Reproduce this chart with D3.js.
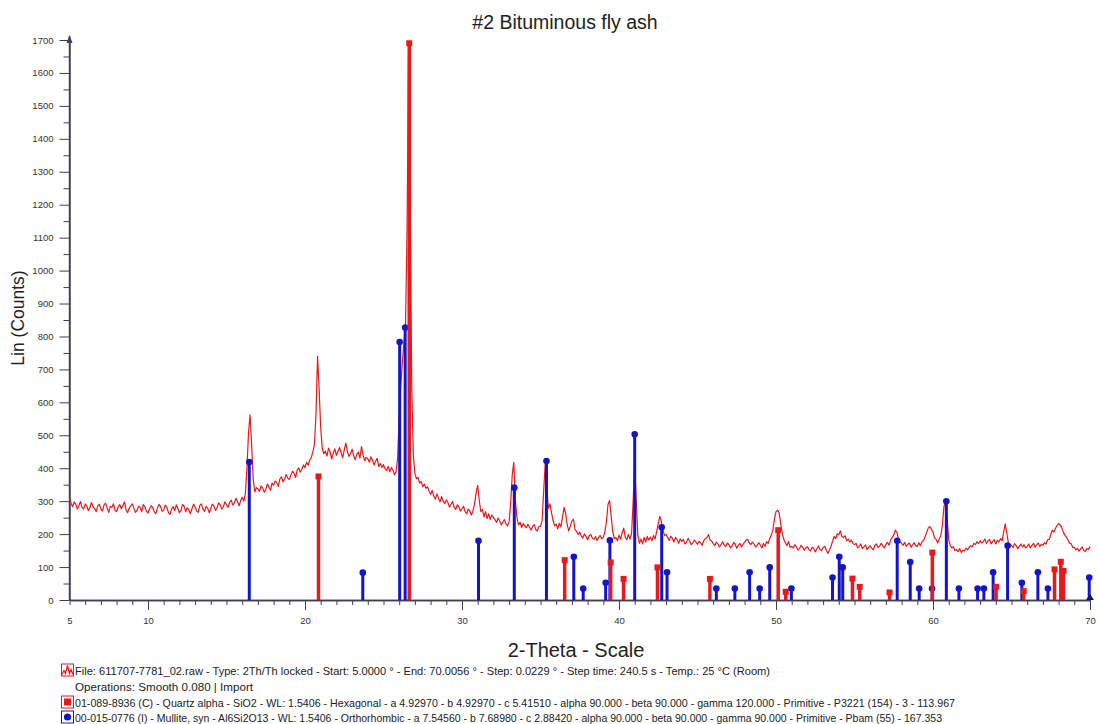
<!DOCTYPE html>
<html><head><meta charset="utf-8">
<script src="https://cdn.jsdelivr.net/npm/d3@7"></script>
<style>
body{margin:0;background:#fff}
svg{display:block}
text{font-family:"Liberation Sans",Arial,Helvetica,sans-serif}
</style>
</head><body>
<svg id="chart" width="1099" height="724"></svg>
<script>
// ---------------- DATA ----------------
const titleText = "#2 Bituminous fly ash";
const xLabel = "2-Theta - Scale";
const yLabel = "Lin (Counts)";

// measured pattern: one value per 0.1 deg of 2-theta, starting at 5.0
const thetaStart = 5.0, thetaStep = 0.1;
const counts = [
/*5*/  309,294,283,298,290,276,287,299,281,276,
/*6*/  292,286,271,280,296,283,278,268,285,291,
/*7*/  276,270,289,294,279,266,284,281,292,272,
/*8*/  268,283,290,277,287,298,274,265,279,286,
/*9*/  292,279,266,272,285,281,268,290,283,270,
/*10*/ 264,277,286,281,267,262,279,290,284,269,
/*11*/ 273,288,281,266,260,276,284,271,289,278,
/*12*/ 265,271,290,285,268,280,274,262,277,291,
/*13*/ 283,270,266,287,292,276,269,284,279,265,
/*14*/ 278,291,285,272,280,295,289,276,283,298,
/*15*/ 290,281,296,303,288,294,309,299,286,301,
/*16*/ 312,300,322,398,505,562,470,368,328,341,
/*17*/ 338,330,346,341,327,335,352,344,333,355,
/*18*/ 349,361,357,345,368,374,359,366,381,370,
/*19*/ 366,379,391,385,372,394,401,388,397,410,
/*20*/ 402,418,409,425,432,449,472,565,740,640,
/*21*/ 522,460,444,452,437,461,449,428,446,459,
/*22*/ 439,451,463,447,432,455,476,450,436,444,
/*23*/ 458,437,426,442,449,431,466,440,423,433,
/*24*/ 429,418,435,424,410,421,430,405,414,402,
/*25*/ 411,398,393,406,389,402,395,380,389,430,
/*26*/ 560,650,720,780,830,1120,1690,1240,640,440,
/*27*/ 385,368,372,355,360,344,352,339,344,331,
/*28*/ 320,333,316,306,322,310,298,314,301,292,
/*29*/ 304,296,282,290,299,281,275,289,283,270,
/*30*/ 277,284,268,262,276,270,258,271,292,325,
/*31*/ 348,302,268,275,252,268,247,262,244,258,
/*32*/ 251,244,236,249,240,228,236,244,231,225,
/*33*/ 238,295,380,418,300,250,228,236,220,232,
/*34*/ 226,219,230,221,212,224,229,214,209,223,
/*35*/ 224,240,330,412,345,278,292,265,242,225,
/*36*/ 230,216,233,222,250,281,262,229,210,224,
/*37*/ 240,245,214,208,199,206,194,188,201,192,
/*38*/ 183,195,199,188,184,193,181,190,196,186,
/*39*/ 190,207,238,290,302,255,208,186,190,180,
/*40*/ 197,185,204,218,190,183,199,185,201,298,
/*41*/ 412,300,196,172,185,170,190,176,193,182,
/*42*/ 191,180,196,185,208,232,254,238,212,196,
/*43*/ 199,190,181,194,187,176,190,183,172,186,
/*44*/ 178,184,170,175,187,179,168,173,182,176,
/*45*/ 169,178,174,166,180,186,190,199,182,179,
/*46*/ 171,165,176,170,161,168,177,166,162,173,
/*47*/ 168,159,163,175,170,157,166,172,161,169,
/*48*/ 176,182,184,173,168,176,170,161,166,174,
/*49*/ 167,158,172,163,177,172,186,197,212,246,
/*50*/ 268,273,265,232,201,184,174,165,178,160,
/*51*/ 163,158,168,161,152,156,166,160,151,158,
/*52*/ 162,153,149,160,157,146,155,164,153,150,
/*53*/ 159,163,152,141,150,162,178,193,186,201,
/*54*/ 198,210,192,190,195,180,185,176,182,172,
/*55*/ 168,172,158,163,170,156,161,167,153,160,
/*56*/ 164,157,152,166,170,159,163,172,165,158,
/*57*/ 169,175,166,182,190,198,212,205,186,178,
/*58*/ 172,166,175,163,169,173,160,167,174,165,
/*59*/ 162,174,165,178,180,193,205,219,223,215,
/*60*/ 206,188,184,173,186,196,228,285,298,248,
/*61*/ 184,165,158,162,150,153,147,156,144,151,
/*62*/ 149,157,152,160,165,161,172,168,177,171,
/*63*/ 180,173,177,185,172,179,184,170,178,183,
/*64*/ 170,181,176,186,180,206,231,203,174,168,
/*65*/ 166,159,171,165,156,163,170,161,168,158,
/*66*/ 163,170,158,166,172,160,167,173,162,169,
/*67*/ 166,174,170,183,184,198,212,206,218,226,
/*68*/ 232,228,219,206,197,190,182,172,171,160,
/*69*/ 160,152,157,148,155,161,150,147,156,153,
/*70*/ 162
];

// reference pattern 01-089-8936 Quartz (red sticks)
const quartzTheta = [20.86,26.64,36.54,39.47,40.29,42.45,45.79,50.14,50.62,54.87,55.33,57.23,59.96,64.02,65.78,67.74,68.14,68.31];
const quartzI     = [375, 1690, 121, 114, 64, 99, 64, 212, 25, 65, 40, 23, 144, 40, 27, 93, 116, 88];

// reference pattern 00-015-0776 Mullite (blue sticks)
const mulliteTheta = [16.45,23.68,26.03,26.38,31.05,33.33,35.38,37.12,37.72,39.15,39.42,41.0,42.72,43.06,46.2,47.38,48.32,48.96,49.6,50.98,53.6,54.03,54.25,57.72,58.55,59.12,59.94,60.85,61.65,62.84,63.24,63.83,64.75,65.66,66.68,67.32,69.95];
const mulliteI     = [419, 83, 783, 827, 180, 341, 422, 131, 35, 52, 181, 503, 221, 84, 35, 35, 84, 35, 99, 35, 68, 131, 99, 180, 115, 35, 35, 300, 35, 35, 35, 84, 165, 52, 84, 35, 68];

const xTickLabels = [5,10,20,30,40,50,60,70];
const xMajorTicks = [10,20,30,40,50,60,70];
const xMinorTicks = d3.range(5, 71, 1);
const yTickLabels = [0,100,200,300,400,500,600,700,800,900,1000,1100,1200,1300,1400,1500,1600,1700];
const yMinorTicks = [50,150,250,350,450,550,650,750,850,950,1050,1150,1250,1350,1450,1550,1650];

const legendLines = [
  "File: 611707-7781_02.raw - Type: 2Th/Th locked - Start: 5.0000 \u00b0 - End: 70.0056 \u00b0 - Step: 0.0229 \u00b0 - Step time: 240.5 s - Temp.: 25 \u00b0C (Room)",
  "Operations: Smooth 0.080 | Import",
  "01-089-8936 (C) - Quartz alpha - SiO2 - WL: 1.5406 - Hexagonal - a 4.92970 - b 4.92970 - c 5.41510 - alpha 90.000 - beta 90.000 - gamma 120.000 - Primitive - P3221 (154) - 3 - 113.967",
  "00-015-0776 (I) - Mullite, syn - Al6Si2O13 - WL: 1.5406 - Orthorhombic - a 7.54560 - b 7.68980 - c 2.88420 - alpha 90.000 - beta 90.000 - gamma 90.000 - Primitive - Pbam (55) - 167.353"
];
const legendWidths = [695, 178, 880, 867];

// ---------------- DRAW ----------------
const RED = "#e8191c", BLUE = "#1414c8", AXIS = "#3d3d5c", TXT = "#222";
const svg = d3.select("#chart");
const x = d3.scaleLinear().domain([5, 70]).range([69.5, 1090]);
const y = d3.scaleLinear().domain([0, 1700]).range([600, 40]);

// title
svg.append("text").attr("x", 565).attr("y", 29).attr("text-anchor", "middle")
  .attr("font-size", 19.5).attr("fill", TXT).text(titleText);

// axes
const gx = svg.append("g").attr("transform", "translate(0,600)");
gx.call(d3.axisBottom(x).tickValues(xMinorTicks).tickSize(5).tickFormat("").tickSizeOuter(0));
const gx2 = svg.append("g").attr("transform", "translate(0,600)");
gx2.call(d3.axisBottom(x).tickValues(xMajorTicks).tickSize(10).tickFormat("").tickSizeOuter(0));
const gx3 = svg.append("g").attr("transform", "translate(0,600)");
gx3.call(d3.axisBottom(x).tickValues(xTickLabels).tickSize(0).tickPadding(17).tickSizeOuter(0));
gx3.select(".domain").remove();

const gy = svg.append("g").attr("transform", "translate(69.5,0)");
gy.call(d3.axisLeft(y).tickValues(yMinorTicks).tickSize(6).tickFormat("").tickSizeOuter(0));
const gy2 = svg.append("g").attr("transform", "translate(69.5,0)");
gy2.call(d3.axisLeft(y).tickValues(yTickLabels).tickSize(10).tickPadding(6).tickFormat(d3.format("d")).tickSizeOuter(0));
gy2.select(".domain").attr("d", `M0,${y(0)}V${y(1700) - 4}`);

svg.selectAll(".domain").attr("stroke", AXIS).attr("stroke-width", 1.4);
svg.selectAll(".tick line").attr("stroke", AXIS).attr("stroke-width", 1);
svg.selectAll(".tick text").attr("font-size", 9.5).attr("fill", "#333")
  .attr("font-family", "Liberation Sans, Arial, sans-serif");

// y-axis arrow
svg.append("path").attr("d", `M${69.5 - 3},${y(1700) + 3}L69.5,${y(1700) - 5}L${69.5 + 3},${y(1700) + 3}Z`).attr("fill", AXIS);

// axis titles
svg.append("text").attr("transform", "translate(24,318) rotate(-90)").attr("text-anchor", "middle")
  .attr("font-size", 17.5).attr("fill", TXT).text(yLabel);
svg.append("text").attr("x", 576).attr("y", 657).attr("text-anchor", "middle")
  .attr("font-size", 20).attr("fill", TXT).text(xLabel);

// pattern line
const pts = counts.map((c, i) => [thetaStart + i * thetaStep, c]);
svg.append("path").datum(pts)
  .attr("fill", "none").attr("stroke", RED).attr("stroke-width", 1.2).attr("stroke-linejoin", "round")
  .attr("d", d3.line().x(d => x(d[0])).y(d => y(d[1])));

// mullite sticks
const mul = mulliteTheta.map((t, i) => ({t, v: mulliteI[i]}));
svg.append("g").selectAll("line").data(mul).join("line")
  .attr("x1", d => x(d.t)).attr("x2", d => x(d.t)).attr("y1", y(0)).attr("y2", d => y(d.v))
  .attr("stroke", BLUE).attr("stroke-width", 3);
svg.append("g").selectAll("circle").data(mul).join("circle")
  .attr("cx", d => x(d.t)).attr("cy", d => y(d.v)).attr("r", 3.3).attr("fill", BLUE);

// quartz sticks
const qz = quartzTheta.map((t, i) => ({t, v: quartzI[i]}));
svg.append("g").selectAll("line").data(qz).join("line")
  .attr("x1", d => x(d.t)).attr("x2", d => x(d.t)).attr("y1", y(0)).attr("y2", d => y(d.v))
  .attr("stroke", RED).attr("stroke-width", 3.5);
svg.append("g").selectAll("rect").data(qz).join("rect")
  .attr("x", d => x(d.t) - 3).attr("y", d => y(d.v) - 3).attr("width", 6).attr("height", 6).attr("fill", RED);

// end marker on axis
svg.append("path").attr("d", `M${x(70) - 4},600L${x(70)},594L${x(70) + 4},600Z`).attr("fill", "#10106e");

// legend
const legY = [671.5, 687.5, 703.5, 718.5];
const lg = svg.append("g");
lg.selectAll("text").data(legendLines).join("text")
  .attr("x", 75).attr("y", (d, i) => legY[i] + 3.6)
  .attr("font-size", 10.3).attr("fill", TXT)
  .attr("textLength", (d, i) => legendWidths[i]).attr("lengthAdjust", "spacingAndGlyphs")
  .text(d => d);

// icon 1: pattern
lg.append("rect").attr("x", 61.5).attr("y", legY[0] - 7.5).attr("width", 12).attr("height", 12)
  .attr("fill", "#fff").attr("stroke", RED).attr("stroke-width", 1);
lg.append("path").attr("d", `M62,${legY[0] + 3}L64,${legY[0] - 1}L65.5,${legY[0] + 2}L67.5,${legY[0] - 6}L69.5,${legY[0] + 2}L71,${legY[0] - 2}L73,${legY[0] + 3}`)
  .attr("fill", "none").attr("stroke", RED).attr("stroke-width", 1.2);
// icon quartz
lg.append("rect").attr("x", 61.5).attr("y", legY[2] - 7.5).attr("width", 12).attr("height", 12)
  .attr("fill", "#fff").attr("stroke", RED).attr("stroke-width", 1);
lg.append("rect").attr("x", 64).attr("y", legY[2] - 5).attr("width", 7).attr("height", 7).attr("fill", RED);
// icon mullite
lg.append("rect").attr("x", 61.5).attr("y", legY[3] - 7.5).attr("width", 12).attr("height", 12)
  .attr("fill", "#fff").attr("stroke", BLUE).attr("stroke-width", 1);
lg.append("circle").attr("cx", 67.5).attr("cy", legY[3] - 1.5).attr("r", 3.6).attr("fill", BLUE);
</script>
</body></html>
